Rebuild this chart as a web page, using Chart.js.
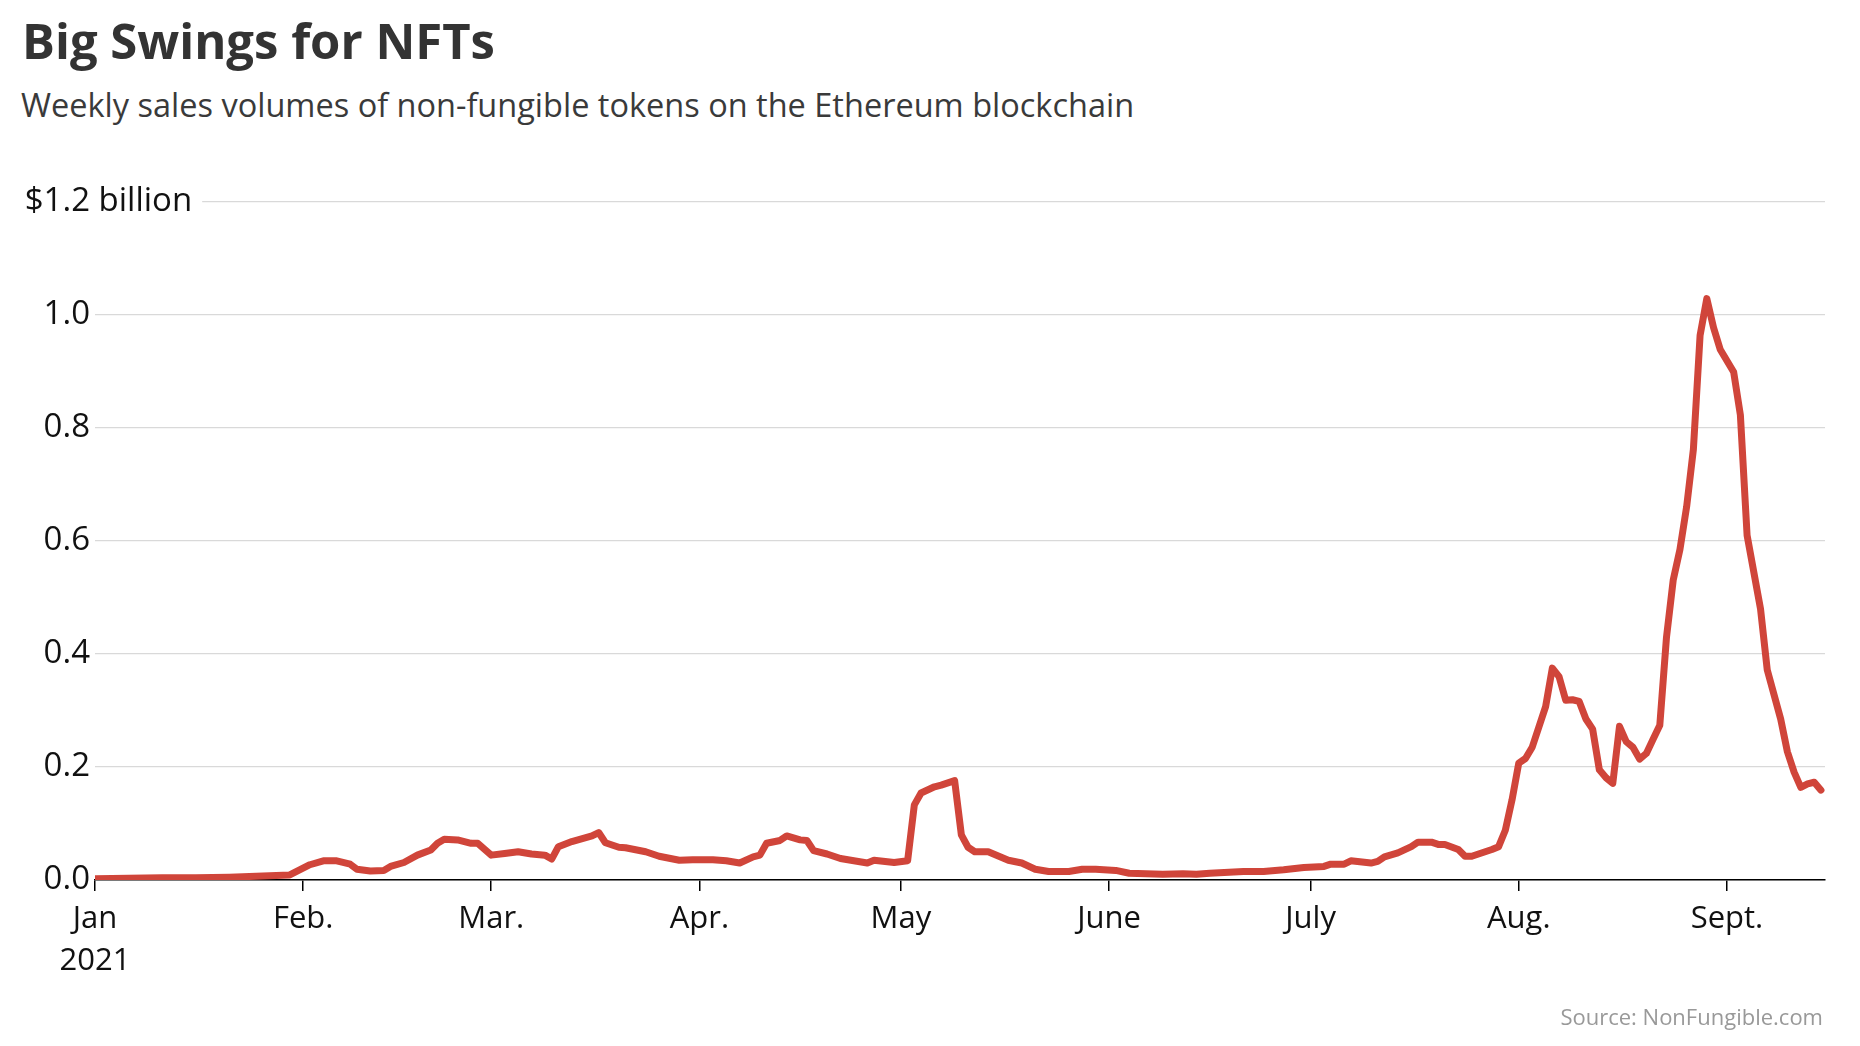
<!DOCTYPE html>
<html>
<head>
<meta charset="utf-8">
<script src="https://cdn.jsdelivr.net/npm/chart.js@4"></script>
<style>
  html, body { margin: 0; padding: 0; background: #fff; }
  body { width: 1860px; height: 1046px; position: relative; overflow: hidden; font-family: "Open Sans", sans-serif; }
  #title { position: absolute; left: 22px; top: 16px; font-size: 49px; line-height: 49px; font-weight: 700; color: #333; white-space: nowrap; }
  #subtitle { position: absolute; left: 21px; top: 89px; font-size: 32.5px; line-height: 32px; color: #3a3a3a; white-space: nowrap; }
  #source { position: absolute; right: 37px; top: 1005px; font-size: 22px; line-height: 22px; color: #999; white-space: nowrap; }
  #wrap { position: absolute; left: 0; top: 150px; width: 1860px; height: 896px; }
</style>
</head>
<body>
<div id="title">Big Swings for NFTs</div>
<div id="subtitle">Weekly sales volumes of non-fungible tokens on the Ethereum blockchain</div>
<div id="wrap"><canvas id="c"></canvas></div>
<div id="source">Source: NonFungible.com</div>
<script>
// Day of year 2021 (0 = Jan 1)
const days = [
  0,5,10,15,20,25,29,
  32,34,36,38,39,41,43,44,46,48,
  50,51,52,54,56,57,59,61,63,65,
  67,68,69,71,74,75,76,78,79,82,
  84,87,89,92,94,96,98,99,100,102,
  103,105,106,107,109,111,113,115,116,119,
  121,122,123,125,126,128,129,130,131,133,
  136,138,140,142,145,147,149,152,154,159,
  162,164,166,171,174,177,180,183,184,186,
  187,190,191,192,194,196,197,199,200,201,
  203,204,205,207,208,209,210,211,212,213,
  214,216,217,218,219,220,221,222,223,224,
  225,226,227,228,229,230,231,232,233,234,
  235,236,237,238,239,240,241,242,244,245,
  246,248,249,251,252,253,254,255,256,257
];
// Weekly sales volume, $ billion
const volumes = [
  0.002,0.003,0.004,0.004,0.005,0.007,0.009,
  0.027,0.034,0.034,0.028,0.019,0.016,0.017,0.024,0.031,0.044,
  0.053,0.065,0.072,0.071,0.065,0.065,0.044,0.047,0.050,0.046,
  0.044,0.037,0.059,0.068,0.078,0.084,0.066,0.058,0.057,0.050,
  0.042,0.035,0.036,0.036,0.034,0.030,0.041,0.044,0.065,0.070,
  0.078,0.071,0.070,0.052,0.046,0.038,0.034,0.030,0.035,0.031,
  0.034,0.133,0.154,0.165,0.168,0.176,0.080,0.058,0.050,0.050,
  0.035,0.030,0.019,0.015,0.015,0.019,0.019,0.017,0.012,0.010,
  0.011,0.010,0.012,0.015,0.015,0.018,0.022,0.024,0.028,0.028,
  0.034,0.030,0.033,0.041,0.048,0.059,0.067,0.067,0.063,0.063,
  0.054,0.042,0.042,0.050,0.054,0.059,0.088,0.142,0.207,0.215,
  0.235,0.307,0.375,0.360,0.318,0.319,0.316,0.285,0.267,0.195,
  0.181,0.171,0.272,0.245,0.235,0.214,0.224,0.249,0.274,0.430,
  0.531,0.585,0.661,0.762,0.964,1.029,0.978,0.939,0.899,0.823,
  0.610,0.480,0.372,0.285,0.227,0.191,0.164,0.170,0.173,0.159
];
const monthStarts = [0,31,59,90,120,151,181,212,243];
const monthLabels = ['Jan','Feb.','Mar.','Apr.','May','June','July','Aug.','Sept.'];
const yearLabel = '2021';
const yTicks = [0,0.2,0.4,0.6,0.8,1.0,1.2];
const yTopLabel = '$1.2';
const yUnit = 'billion';

const tickFont = { family: 'Open Sans', size: 33 };
const TICK_PAD = 5;

const unitPlugin = {
  id: 'unitLabel',
  afterDraw(chart) {
    const ys = chart.scales.y;
    const ctx = chart.ctx;
    const py = ys.getPixelForValue(1.2);
    ctx.save();
    ctx.font = `${tickFont.size}px "${tickFont.family}"`;
    const xRight = ys.right - TICK_PAD;
    const sp = ctx.measureText(' ').width;
    const w = ctx.measureText(yUnit).width;
    ctx.fillStyle = '#fff';
    ctx.fillRect(chart.chartArea.left - 2, py - 4, xRight + sp + w + 10 - chart.chartArea.left + 2, 8);
    ctx.fillStyle = '#111';
    ctx.textAlign = 'left';
    ctx.textBaseline = 'middle';
    ctx.fillText(yUnit, xRight + sp, py);
    ctx.restore();
  }
};

new Chart(document.getElementById('c'), {
  type: 'line',
  data: {
    datasets: [{
      data: days.map((d, i) => ({ x: d, y: volumes[i] })),
      borderColor: '#d0453a',
      borderWidth: 7,
      pointRadius: 0,
      tension: 0,
      borderJoinStyle: 'round',
      borderCapStyle: 'round',
      fill: false
    }]
  },
  options: {
    responsive: true,
    maintainAspectRatio: false,
    animation: false,
    layout: { padding: { top: 52, right: 35, left: 0, bottom: 0 } },
    plugins: { legend: { display: false }, tooltip: { enabled: false }, title: { display: false } },
    scales: {
      x: {
        type: 'linear',
        min: 0,
        max: 257.6,
        afterBuildTicks(scale) { scale.ticks = monthStarts.map(v => ({ value: v })); },
        afterFit(scale) { scale.height = 166; },
        ticks: {
          autoSkip: false,
          maxRotation: 0,
          minRotation: 0,
          padding: 7,
          color: '#111',
          font: { family: 'Open Sans', size: 31, lineHeight: 1.35 },
          callback(value) {
            const i = monthStarts.indexOf(value);
            if (i < 0) return '';
            return i === 0 ? [monthLabels[0], yearLabel] : monthLabels[i];
          }
        },
        grid: { drawOnChartArea: false, drawTicks: true, tickLength: 11, color: '#000', lineWidth: 1.5 },
        border: { display: true, color: '#000', width: 1.5 }
      },
      y: {
        min: 0,
        max: 1.2,
        afterBuildTicks(scale) { scale.ticks = yTicks.map(v => ({ value: v })); },
        afterFit(scale) { scale.width = 95; },
        ticks: {
          padding: TICK_PAD,
          color: '#111',
          font: tickFont,
          callback(value) {
            if (Math.abs(value - 1.2) < 1e-9) return yTopLabel;
            return value.toFixed(1);
          }
        },
        grid: { drawTicks: false, color: '#d9d9d9', lineWidth: 1.3 },
        border: { display: false }
      }
    }
  },
  plugins: [unitPlugin]
});
</script>
</body>
</html>
